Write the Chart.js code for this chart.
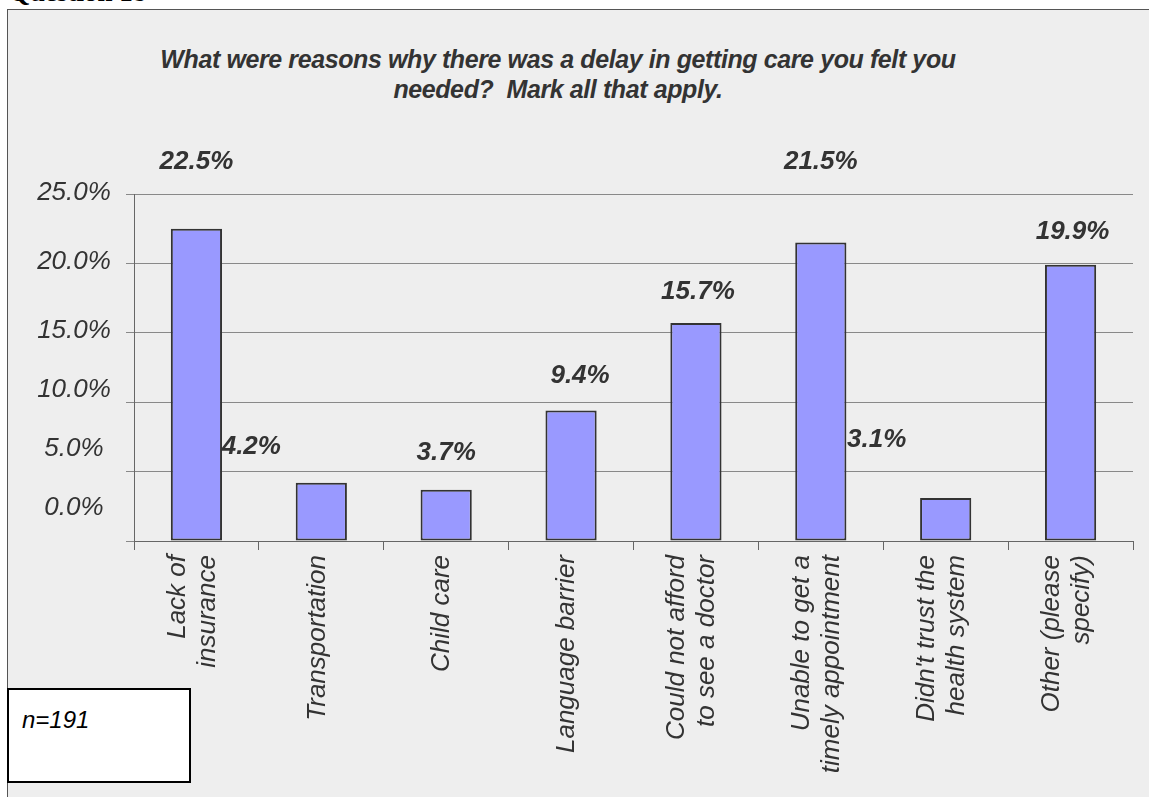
<!DOCTYPE html>
<html>
<head>
<meta charset="utf-8">
<script src="https://cdn.jsdelivr.net/npm/chart.js@4.4.1/dist/chart.umd.min.js"></script>
<style>
    html, body { margin: 0; padding: 0; background: #fff; overflow: hidden; }
    body { width: 1149px; height: 797px; position: relative; font-family: "Liberation Sans", Arial, sans-serif; }
    #question { position: absolute; left: 9px; top: -21px; font: bold 27px/27px "Liberation Serif", "Times New Roman", serif; color: #000; white-space: nowrap; }
    #frame { position: absolute; left: 7px; top: 9px; width: 1160px; height: 800px; background: #eeeeee; border: 1px solid #555; }
    #title { position: absolute; left: 100px; width: 916px; top: 44px; text-align: center; font: italic bold 25px/30px "Liberation Sans", Arial, sans-serif; color: #333; letter-spacing: -0.4px; white-space: nowrap; }
    #chartBox { position: absolute; left: 0; top: 0; width: 1149px; height: 797px; }
    #nbox { position: absolute; left: 7px; top: 688px; width: 180px; height: 91px; background: #fff; border: 2px solid #000; }
    #nbox span { position: absolute; left: 13px; top: 16px; font: italic 24px "Liberation Sans", Arial, sans-serif; color: #000; }
</style>
</head>
<body>
<div id="question">Question 18</div>
<div id="frame"></div>
<div id="title">What were reasons why there was a delay in getting care you felt you<br>needed?&nbsp; Mark all that apply.</div>
<div id="chartBox"><canvas id="delayChart" width="1149" height="797"></canvas></div>
<div id="nbox"><span>n=191</span></div>

<script>
var categories = [
    ["Lack of", "insurance"],
    "Transportation",
    "Child care",
    "Language barrier",
    ["Could not afford", "to see a doctor"],
    ["Unable to get a", "timely appointment"],
    ["Didn't trust the", "health system"],
    ["Other (please", "specify)"]
];
var percents = [22.5, 4.2, 3.7, 9.4, 15.7, 21.5, 3.1, 19.9];
var yTicks = [0, 5, 10, 15, 20, 25];

var FONT = '"Liberation Sans", Arial, sans-serif';

// the original sheet has its labels nudged around, keep that look
var yLabelShift = [-33, -23, -12, -2, -2, -1];
var valueLabelShift = [[0, -67], [-70, -36], [0, -37], [9, -35], [2, -31], [0, -81], [-69, -58], [2, -33]];

var textPlugin = {
    id: "textPlugin",
    afterDraw: function (chart) {
        var ctx = chart.ctx;
        var xScale = chart.scales.x;
        var yScale = chart.scales.y;
        ctx.save();
        ctx.fillStyle = "#333";
        ctx.textBaseline = "middle";

        // y tick labels
        ctx.font = "italic 26px " + FONT;
        ctx.textAlign = "center";
        yTicks.forEach(function (v, i) {
            ctx.fillText(v.toFixed(1) + "%", 74, yScale.getPixelForValue(v) + yLabelShift[i]);
        });

        // category labels, rotated
        ctx.font = "italic 26px " + FONT;
        categories.forEach(function (lab, i) {
            var lines = [].concat(lab);
            var cx = xScale.getPixelForValue(i) - 4;
            lines.forEach(function (line, j) {
                ctx.save();
                ctx.translate(cx + (j - (lines.length - 1) / 2) * 30, xScale.top + 14);
                ctx.rotate(-Math.PI / 2);
                ctx.textAlign = "right";
                ctx.fillText(line, 0, 0);
                ctx.restore();
            });
        });

        // value labels
        ctx.font = "italic bold 26px " + FONT;
        ctx.textAlign = "center";
        chart.getDatasetMeta(0).data.forEach(function (bar, i) {
            ctx.fillText(percents[i].toFixed(1) + "%", bar.x + valueLabelShift[i][0], bar.y + valueLabelShift[i][1]);
        });
        ctx.restore();
    }
};

new Chart(document.getElementById("delayChart"), {
    type: "bar",
    data: {
        labels: categories,
        datasets: [
            {
                label: "Percent",
                data: percents,
                backgroundColor: "#9999ff",
                borderColor: "#333",
                borderWidth: 2,
                borderSkipped: false,
                barPercentage: 0.41,
                categoryPercentage: 1,
            },
        ],
    },
    options: {
        responsive: false,
        animation: false,
        layout: {
            padding: { left: 126, right: 16, top: 194, bottom: 16 },
        },
        plugins: {
            legend: { display: false },
            tooltip: { enabled: false },
        },
        scales: {
            x: {
                grid: { drawOnChartArea: false, drawTicks: true, tickLength: 9, color: "#666" },
                border: { display: true, color: "#666" },
                ticks: { display: false },
                afterFit: function (scale) { scale.height = 240; },
            },
            y: {
                min: 0,
                max: 25,
                ticks: { stepSize: 5, display: false },
                grid: { color: "#888", tickLength: 8 },
                border: { display: true, color: "#666" },
                afterFit: function (scale) { scale.width = 8; },
            },
        },
    },
    plugins: [textPlugin],
});
</script>
</body>
</html>
